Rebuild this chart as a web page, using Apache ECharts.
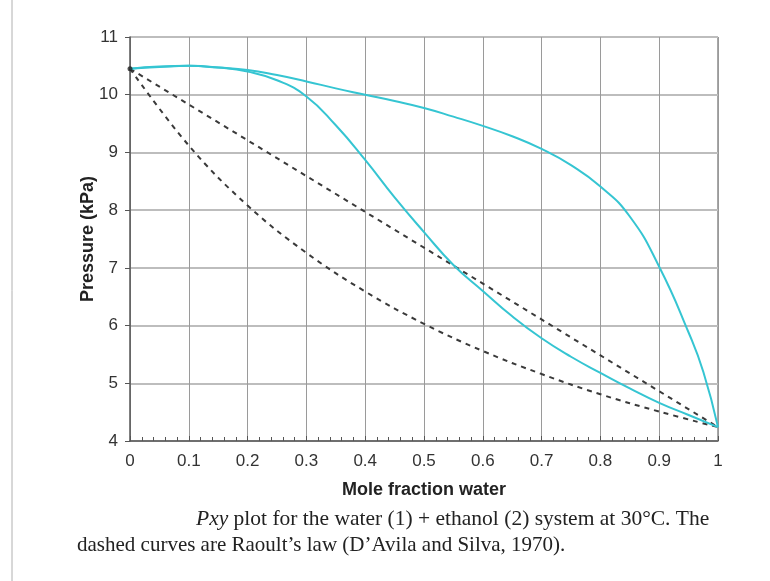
<!DOCTYPE html>
<html>
<head>
<meta charset="utf-8">
<script src="https://cdn.jsdelivr.net/npm/echarts@6/dist/echarts.min.js"></script>
<style>
  html, body { margin: 0; padding: 0; background: #fff; }
  #chart { width: 770px; height: 581px; }
</style>
</head>
<body>
<div id="chart"></div>
<script>
// mole fraction water
var xBubble = [0, 0.05, 0.1, 0.15, 0.2, 0.25, 0.3, 0.35, 0.4, 0.45, 0.5, 0.55, 0.6, 0.65, 0.7, 0.75, 0.8, 0.85, 0.9, 0.95, 1];
var pBubble = [10.45, 10.48, 10.5, 10.47, 10.4, 10.25, 9.97, 9.47, 8.87, 8.22, 7.62, 7.05, 6.6, 6.16, 5.78, 5.46, 5.18, 4.91, 4.66, 4.45, 4.24];

var xDew = [0, 0.05, 0.1, 0.15, 0.2, 0.25, 0.3, 0.35, 0.4, 0.45, 0.5, 0.55, 0.6, 0.65, 0.7, 0.75, 0.8, 0.85, 0.9, 0.95, 0.975, 1];
var pDew = [10.45, 10.49, 10.5, 10.47, 10.43, 10.34, 10.23, 10.11, 10.0, 9.89, 9.77, 9.62, 9.46, 9.28, 9.06, 8.78, 8.41, 7.89, 7.02, 5.88, 5.2, 4.24];

// Raoult's law (dashed)
var xRaoultBub = [0, 0.5, 1];
var pRaoultBub = [10.45, 7.35, 4.24];
var xRaoultDew = [0, 0.1, 0.2, 0.3, 0.4, 0.5, 0.6, 0.7, 0.8, 0.9, 1];
var pRaoultDew = [10.45, 9.12, 8.08, 7.26, 6.59, 6.03, 5.56, 5.16, 4.81, 4.51, 4.24];

var xTicks = ['0', '0.1', '0.2', '0.3', '0.4', '0.5', '0.6', '0.7', '0.8', '0.9', '1'];

function pairs(xs, ys) {
    return xs.map(function (x, i) { return [x, ys[i]]; });
}

var cyan = '#35c5d2';
var dash = '#3a3a3a';

var myChart = echarts.init(document.getElementById('chart'));

var option = {
    backgroundColor: '#fff',
    animation: false,
    grid: { left: 130, right: 52, top: 37, bottom: 140 },
    xAxis: {
        type: 'value',
        min: 0,
        max: 1,
        interval: 0.1,
        name: 'Mole fraction water',
        nameLocation: 'middle',
        nameGap: 40,
        nameTextStyle: { fontFamily: 'Liberation Sans', fontSize: 18, fontWeight: 'bold', color: '#222' },
        axisLine: { show: true, lineStyle: { color: '#555', width: 1.5 } },
        axisTick: { show: true, inside: true, length: 5, lineStyle: { color: '#555' } },
        minorTick: { show: true, splitNumber: 5, length: 4, lineStyle: { color: '#555' } },
        axisLabel: {
            margin: 12,
            fontFamily: 'Liberation Sans', fontSize: 17, color: '#333',
            formatter: function (v) { return xTicks[Math.round(v * 10)]; }
        },
        splitLine: { show: true, lineStyle: { color: '#9a9a9a', width: 1 } }
    },
    yAxis: {
        type: 'value',
        min: 4,
        max: 11,
        interval: 1,
        name: 'Pressure (kPa)',
        nameLocation: 'middle',
        nameGap: 33,
        nameMoveOverlap: false,
        nameRotate: 90,
        nameTextStyle: { fontFamily: 'Liberation Sans', fontSize: 18, fontWeight: 'bold', color: '#222' },
        axisLine: { show: true, lineStyle: { color: '#555', width: 1.5 } },
        axisTick: { show: true, length: 5, lineStyle: { color: '#555' } },
        axisLabel: { margin: 12, fontFamily: 'Liberation Sans', fontSize: 17, color: '#333' },
        splitLine: { show: true, lineStyle: { color: '#bdbdbd', width: 2 } }
    },
    graphic: [
        { type: 'line', shape: { x1: 12, y1: 0, x2: 12, y2: 581 }, style: { stroke: '#b0b0b0', lineWidth: 1 } },
        { type: 'line', shape: { x1: 718, y1: 37, x2: 718, y2: 441 }, style: { stroke: '#8a8a8a', lineWidth: 1.5 } },
        {
            type: 'text',
            left: 196,
            top: 508,
            style: {
                text: '{i|Pxy} plot for the water (1) + ethanol (2) system at 30°C. The',
                font: '21.5px "Liberation Serif"',
                fill: '#222',
                rich: { i: { fontStyle: 'italic', fontFamily: 'Liberation Serif', fontSize: 21.5, fill: '#222' } }
            }
        },
        {
            type: 'text',
            left: 77,
            top: 535,
            style: {
                text: 'dashed curves are Raoult\u2019s law (D\u2019Avila and Silva, 1970).',
                font: '21px "Liberation Serif"',
                fill: '#222'
            }
        }
    ],
    series: [
        {
            name: 'Raoult bubble',
            type: 'line',
            data: pairs(xRaoultBub, pRaoultBub),
            showSymbol: false,
            lineStyle: { color: dash, width: 2, type: [5, 5] },
            z: 3
        },
        {
            name: 'Raoult dew',
            type: 'line',
            smooth: 0.4,
            data: pairs(xRaoultDew, pRaoultDew),
            showSymbol: false,
            lineStyle: { color: dash, width: 2, type: [5, 5] },
            z: 3
        },
        {
            name: 'Bubble',
            type: 'line',
            smooth: 0.5,
            data: pairs(xBubble, pBubble),
            showSymbol: false,
            lineStyle: { color: cyan, width: 2 },
            z: 4
        },
        {
            name: 'Dew',
            type: 'line',
            smooth: 0.5,
            data: pairs(xDew, pDew),
            showSymbol: false,
            lineStyle: { color: cyan, width: 2 },
            z: 4
        },
        {
            name: 'Pure ethanol',
            type: 'scatter',
            data: [[xBubble[0], pBubble[0]]],
            symbolSize: 5,
            itemStyle: { color: '#222' },
            z: 5
        }
    ]
};

myChart.setOption(option);
</script>
</body>
</html>
